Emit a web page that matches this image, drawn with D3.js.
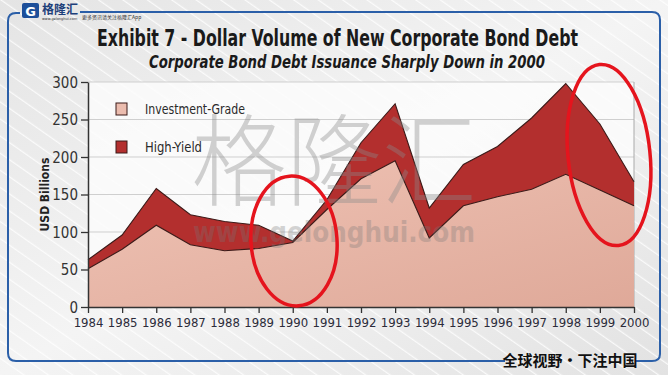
<!DOCTYPE html>
<html>
<head>
<meta charset="utf-8">
<script src="https://d3js.org/d3.v7.min.js"></script>
<style>
  body { margin: 0; background: #fff; }
  svg { display: block; }
  .cond { font-family: "Liberation Sans Narrow", "Arial Narrow", "DejaVu Sans Condensed", sans-serif; }
</style>
</head>
<body>
<div class="container"></div>
<script>
// chart values (USD billions)
var years = [1984, 1985, 1986, 1987, 1988, 1989, 1990, 1991, 1992, 1993, 1994, 1995, 1996, 1997, 1998, 1999, 2000];
var investmentGrade = [51, 77, 109, 83, 75, 78, 86, 130, 171, 195, 92, 135, 147, 157, 177, 156, 135];
var highYield = [12, 19, 49, 40, 39, 31, 2, 13, 48, 76, 40, 55, 67, 95, 121, 88, 32];
var yTicks = [0, 50, 100, 150, 200, 250, 300];
var seriesNames = ["Investment-Grade", "High-Yield"];

var svgWidth = 668;
var svgHeight = 375;

var margin = { top: 82, right: 34, bottom: 68, left: 88 };
var width = svgWidth - margin.left - margin.right;
var height = svgHeight - margin.top - margin.bottom;

var svg = d3.select(".container")
  .append("svg")
  .attr("width", svgWidth)
  .attr("height", svgHeight);

var defs = svg.append("defs");

// background gradient + diagonal stripes
var bg = defs.append("linearGradient").attr("id", "bg")
  .attr("x1", 0).attr("y1", 0).attr("x2", 1).attr("y2", 1);
bg.append("stop").attr("offset", "0%").attr("stop-color", "#e4e4e4");
bg.append("stop").attr("offset", "50%").attr("stop-color", "#f4f4f4");
bg.append("stop").attr("offset", "100%").attr("stop-color", "#e2e2e2");

var stripes = defs.append("pattern").attr("id", "stripes")
  .attr("width", 14).attr("height", 14)
  .attr("patternUnits", "userSpaceOnUse")
  .attr("patternTransform", "rotate(-55)");
stripes.append("rect").attr("width", 1.2).attr("height", 14).attr("fill", "#ffffff").attr("opacity", 0.8);

var igGrad = defs.append("linearGradient").attr("id", "igGrad")
  .attr("x1", 0).attr("y1", 0).attr("x2", 1).attr("y2", 1);
igGrad.append("stop").attr("offset", "0%").attr("stop-color", "#efc3b5");
igGrad.append("stop").attr("offset", "100%").attr("stop-color", "#dfa999");

svg.append("rect").attr("width", svgWidth).attr("height", svgHeight).attr("fill", "url(#bg)");
svg.append("rect").attr("width", svgWidth).attr("height", svgHeight).attr("fill", "url(#stripes)");

// blue frame
var frameColor = "#2b5fa8";
svg.append("path")
  .attr("d", "M80,12 L652,12 Q660,12 660,20 L660,354 Q660,361 652,361 L636,361 M505,361 L16,361 Q8,361 8,353 L8,21 Q8,13 16,13 L20,13")
  .attr("fill", "none")
  .attr("stroke", frameColor)
  .attr("stroke-width", 2);

// logo
svg.append("rect").attr("x", 22).attr("y", 3).attr("width", 17).attr("height", 15).attr("rx", 2).attr("fill", "#1d4f9a");
svg.append("text").attr("x", 30.5).attr("y", 16).attr("text-anchor", "middle")
  .style("font-family", "DejaVu Sans").style("font-weight", "bold").style("font-size", "13px")
  .attr("fill", "#fff").text("G");
svg.append("text").attr("x", 42).attr("y", 14)
  .style("font-family", "Noto Sans CJK SC").style("font-weight", "bold").style("font-size", "12px")
  .attr("fill", "#1d3f7a").text("格隆汇");
svg.append("text").attr("x", 42).attr("y", 20)
  .style("font-family", "DejaVu Sans").style("font-size", "3.5px")
  .attr("fill", "#333").text("www.gelonghui.com");
svg.append("text").attr("x", 82).attr("y", 19)
  .style("font-family", "Noto Sans CJK SC").style("font-size", "5px")
  .attr("fill", "#333").text("更多资讯请关注格隆汇App");

// titles
svg.append("text").attr("class", "cond")
  .attr("x", 97).attr("y", 46)
  .attr("textLength", 481).attr("lengthAdjust", "spacingAndGlyphs")
  .style("font-weight", "bold").style("font-size", "23px")
  .attr("fill", "#1a1a1a")
  .text("Exhibit 7 - Dollar Volume of New Corporate Bond Debt");

svg.append("text").attr("class", "cond")
  .attr("x", 149).attr("y", 68)
  .attr("textLength", 396).attr("lengthAdjust", "spacingAndGlyphs")
  .style("font-weight", "bold").style("font-style", "italic").style("font-size", "18px")
  .attr("fill", "#1a1a1a")
  .text("Corporate Bond Debt Issuance Sharply Down in 2000");

var chartGroup = svg.append("g")
  .attr("transform", `translate(${margin.left}, ${margin.top})`);

// scales
var xScale = d3.scaleLinear()
  .domain([years[0], years[years.length - 1]])
  .range([0, width]);

var yScale = d3.scaleLinear()
  .domain([0, 300])
  .range([height, 0]);

// plot area
chartGroup.append("rect")
  .attr("width", width).attr("height", height)
  .attr("fill", "#fbfbfb").attr("opacity", 0.85);

// gridlines
chartGroup.selectAll(".grid")
  .data(yTicks.filter(d => d > 0))
  .enter()
  .append("line")
  .attr("x1", 0).attr("x2", width)
  .attr("y1", d => yScale(d)).attr("y2", d => yScale(d))
  .attr("stroke", "#cfcfcf").attr("stroke-width", 1);

chartGroup.append("line")
  .attr("x1", width).attr("x2", width).attr("y1", 0).attr("y2", height)
  .attr("stroke", "#aaaaaa");

// stacked areas
var rows = years.map((y, i) => ({ year: y, ig: investmentGrade[i], hy: highYield[i] }));
var stacked = d3.stack().keys(["ig", "hy"])(rows);

var area = d3.area()
  .x(d => xScale(d.data.year))
  .y0(d => yScale(d[0]))
  .y1(d => yScale(d[1]));

var fills = ["url(#igGrad)", "#b32f2e"];

chartGroup.selectAll(".layer")
  .data(stacked)
  .enter()
  .append("path")
  .attr("d", area)
  .attr("fill", (d, i) => fills[i]);

var topLine = d3.line()
  .x(d => xScale(d.data.year))
  .y(d => yScale(d[1]));

chartGroup.selectAll(".edge")
  .data(stacked)
  .enter()
  .append("path")
  .attr("d", topLine)
  .attr("fill", "none")
  .attr("stroke", "#3b1a18")
  .attr("stroke-width", 1.1);

// watermark
svg.append("text")
  .attr("x", 334).attr("y", 198)
  .attr("text-anchor", "middle")
  .style("font-family", "Noto Sans CJK SC").style("font-weight", "300").style("font-size", "100px")
  .attr("fill", "#8a8a8a").attr("opacity", 0.38)
  .attr("textLength", 285).attr("lengthAdjust", "spacingAndGlyphs")
  .text("格隆汇");
svg.append("text")
  .attr("x", 334).attr("y", 242)
  .attr("text-anchor", "middle")
  .style("font-family", "DejaVu Sans").style("font-weight", "bold").style("font-size", "28px")
  .attr("fill", "#777").attr("opacity", 0.3)
  .attr("textLength", 282).attr("lengthAdjust", "spacingAndGlyphs")
  .text("www.gelonghui.com");

// axes
var bottomAxis = d3.axisBottom(xScale)
  .tickValues(years)
  .tickFormat(d3.format("d"))
  .tickSizeInner(6).tickSizeOuter(0).tickPadding(5);
var leftAxis = d3.axisLeft(yScale)
  .tickValues(yTicks)
  .tickSizeInner(7).tickSizeOuter(0).tickPadding(3);

var xAxis = chartGroup.append("g")
  .attr("class", "cond")
  .attr("transform", `translate(0, ${height})`)
  .call(bottomAxis);
xAxis.selectAll("text").style("font-size", "13px").attr("fill", "#2c2c3a");

var yAxis = chartGroup.append("g")
  .attr("class", "cond")
  .call(leftAxis);
yAxis.selectAll("text").style("font-size", "15px").attr("fill", "#333").attr("dy", "0.35em");

[xAxis, yAxis].forEach(function(ax) {
  ax.select(".domain").attr("stroke", "#333").attr("stroke-width", 1.5);
  ax.selectAll(".tick line").attr("stroke", "#333").attr("stroke-width", 1.3);
});

chartGroup.append("text")
  .attr("class", "cond")
  .attr("transform", "rotate(-90)")
  .attr("x", 0 - yScale(150))
  .attr("y", -39)
  .attr("text-anchor", "middle")
  .style("font-weight", "bold").style("font-size", "12px")
  .attr("fill", "#222")
  .text("USD Billions");

// legend
var legendColors = ["#ebbcae", "#b32f2e"];
var legendWidths = [100, 57];
var legend = chartGroup.selectAll(".legend")
  .data(seriesNames)
  .enter()
  .append("g")
  .attr("transform", (d, i) => `translate(28, ${21 + i * 38})`);
legend.append("rect")
  .attr("width", 11).attr("height", 12)
  .attr("fill", (d, i) => legendColors[i])
  .attr("stroke", "#3b1a18").attr("stroke-width", 1);
legend.append("text")
  .attr("class", "cond")
  .attr("x", 29).attr("y", 6)
  .attr("dy", "0.35em")
  .attr("textLength", (d, i) => legendWidths[i]).attr("lengthAdjust", "spacingAndGlyphs")
  .style("font-size", "14px")
  .attr("fill", "#2a2a2a")
  .text(d => d);

// red annotation ellipses
svg.append("ellipse")
  .attr("cx", 294).attr("cy", 241).attr("rx", 43).attr("ry", 65)
  .attr("transform", "rotate(-4, 294, 241)")
  .attr("fill", "none").attr("stroke", "#e5141d").attr("stroke-width", 3.5);
svg.append("ellipse")
  .attr("cx", 609).attr("cy", 155).attr("rx", 41).attr("ry", 91)
  .attr("transform", "rotate(-6, 609, 155)")
  .attr("fill", "none").attr("stroke", "#e5141d").attr("stroke-width", 3.5);

// footer slogan
svg.append("text")
  .attr("x", 570).attr("y", 366)
  .attr("text-anchor", "middle")
  .style("font-family", "Noto Sans CJK SC").style("font-weight", "bold").style("font-size", "15px")
  .attr("fill", "#111")
  .text("全球视野・下注中国");
</script>
</body>
</html>
